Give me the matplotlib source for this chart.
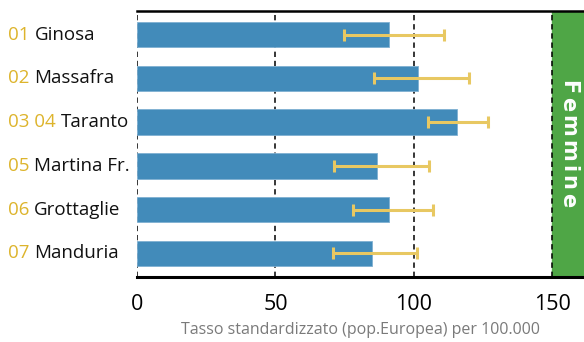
import matplotlib
matplotlib.use("Agg")
import matplotlib.pyplot as plt
import numpy as np

codes = ["01", "02", "03 04", "05", "06", "07"]
names = ["Ginosa", "Massafra", "Taranto", "Martina Fr.", "Grottaglie", "Manduria"]
values = [91.1, 101.3, 115.4, 86.8, 91.1, 84.7]
ci_low = [74.9, 85.7, 104.9, 71.2, 77.9, 70.9]
ci_high = [110.9, 119.9, 126.8, 105.5, 106.9, 101.2]
xticks = [0, 50, 100, 150]
xlabel = "Tasso standardizzato (pop.Europea) per 100.000"
band_label = "Femmine"

plt.rcParams['font.family'] = ['Open Sans', 'DejaVu Sans']

W, H = 584, 342
fig = plt.figure(figsize=(W / 100, H / 100), dpi=100)
ax = fig.add_axes([137/W, 1-277/H, 1-137/W, (277-11)/H])

y = np.arange(len(names))
vals = np.array(values)
lo = vals - np.array(ci_low)
hi = np.array(ci_high) - vals

ax.axvspan(150, 161.4, color="#4FA646", zorder=0)
for t in xticks:
    ax.axvline(t, color="black", lw=1.1, ls=(0, (3.5, 2.5)), zorder=1)

ax.barh(y, vals, height=0.58, color="#428BBA", edgecolor="#7FB0D2", linewidth=0.6, zorder=2)
ax.errorbar(vals, y, xerr=[lo, hi], fmt="none", ecolor="#E8C862",
            elinewidth=2.2, capsize=4, capthick=2.2, zorder=3)

ax.set_xlim(0, 161.4)
ax.set_ylim(len(names) - 0.5 + 0.04, -0.5 - 0.04)
ax.set_yticks([])
ax.set_xticks(xticks)
ax.set_xticklabels([str(t) for t in xticks], fontsize=15.5)
ax.tick_params(axis="x", length=0, pad=12)
for s in ["left", "right"]:
    ax.spines[s].set_visible(False)
ax.spines["top"].set_linewidth(1.8)
ax.spines["bottom"].set_linewidth(2.2)
ax.set_xlabel(xlabel, fontsize=11.5, color="#7A7A7A", labelpad=5)

for i in range(len(names)):
    t = ax.text(-137 / 2.77 + 8 / 2.77, i, codes[i], fontsize=13.5, color="#DDB42C",
                va="center", ha="left", transform=ax.transData)
    ax.annotate(names[i], xy=(1, 0), xycoords=t, xytext=(3.5, 0),
                textcoords="offset points", fontsize=13.5, color="#111111",
                va="bottom", ha="left")

# letter-spaced vertical label in the green band
renderer = fig.canvas.get_renderer()
cur = H - 80.0
for ch in band_label:
    tt = fig.text(568 / W, cur / H, ch, rotation=-90, fontsize=15, fontweight="bold",
                  color="white", ha="center", va="top", family="DejaVu Sans")
    bb = tt.get_window_extent(renderer)
    cur -= bb.height + 3.2

fig.savefig("out.png", dpi=100)
